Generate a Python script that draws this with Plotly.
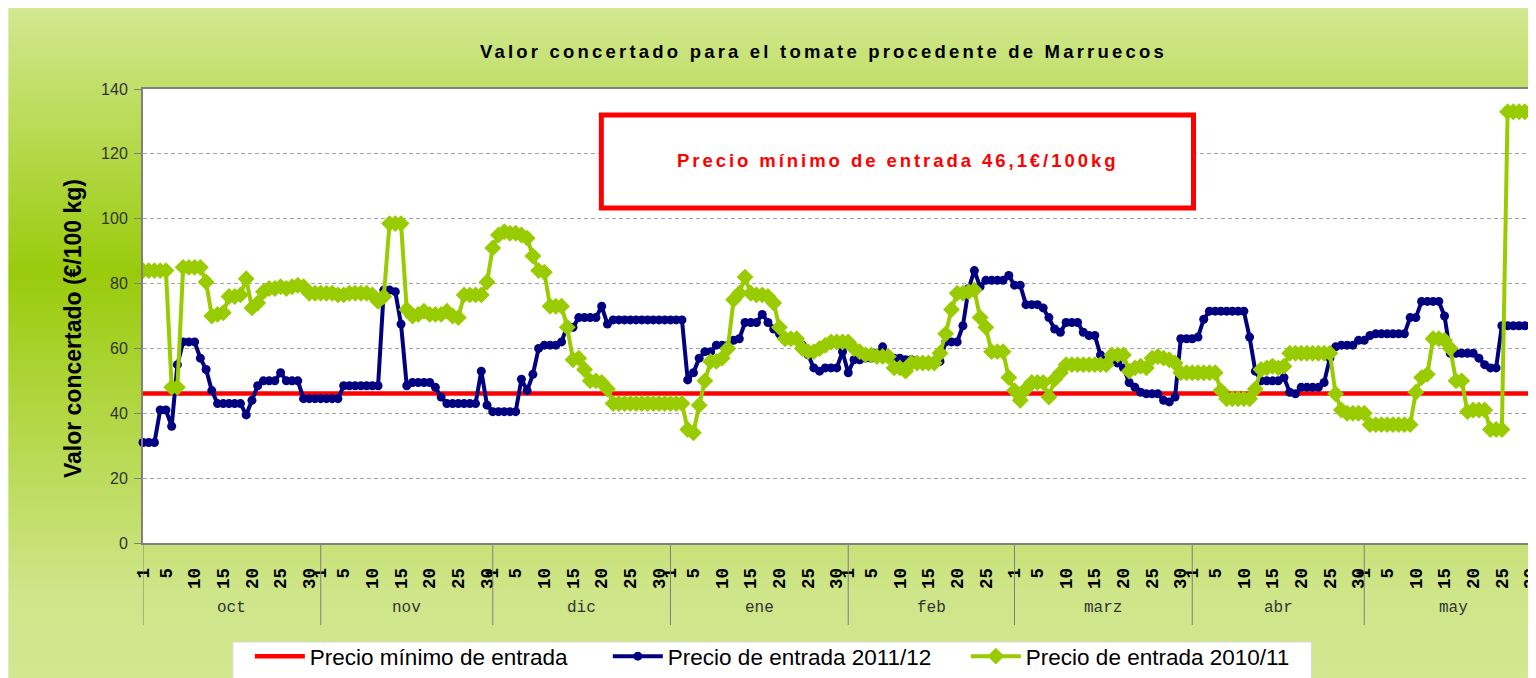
import base64
import plotly.graph_objects as go

# ---------------- data ----------------
months = ["oct", "nov", "dic", "ene", "feb", "marz", "abr", "may"]
month_days = [31, 30, 31, 31, 29, 31, 30, 31]
tick_days = [1, 5, 10, 15, 20, 25, 30]

precio_minimo = 46.1

# Precio de entrada 2011/12 (one value per day, 1 oct -> 31 may)
precio_2011_12 = [
    # oct
    31, 31, 31, 41, 41, 36, 55, 62, 62, 62, 57, 53.5, 47, 43, 43, 43, 43, 43, 39.5, 44,
    48.5, 50, 50, 50, 52.5, 50, 50, 50, 44.5, 44.5, 44.5,
    # nov
    44.5, 44.5, 44.5, 44.5, 48.5, 48.5, 48.5, 48.5, 48.5, 48.5, 48.5, 78, 78, 77.5, 67.5,
    48.5, 49.5, 49.5, 49.5, 49.5, 48, 45, 43, 43, 43, 43, 43, 43, 53, 42.5,
    # dic
    40.5, 40.5, 40.5, 40.5, 40.5, 50.5, 47, 52, 60, 61, 61, 61, 62, 67, 66.5, 69.5,
    69.5, 69.5, 69.5, 73, 67.5, 68.8, 68.8, 68.8, 68.8, 68.8, 68.8, 68.8, 68.8, 68.8, 68.8,
    # ene
    68.8, 68.8, 68.8, 50.3, 52.5, 57, 59, 59, 61, 61, 61, 62.5, 63, 68, 68, 68, 70.5, 68,
    66, 64.5, 62.5, 62.5, 62.5, 61, 58, 54, 53, 54, 54, 54, 59,
    # feb
    52.5, 56.5, 56.5, 57, 57, 58.5, 60.5, 57, 57, 57, 56.5, 56.5, 56, 56, 56, 56, 56, 62,
    62, 62, 67, 78.5, 84, 79, 81, 81, 81, 81, 82.5,
    # marz
    79.5, 79.5, 73.5, 73.5, 73.5, 72.5, 69.5, 66, 65, 68, 68, 68, 65, 64, 64, 58, 56, 56,
    55.5, 54, 49.5, 48, 46.5, 46, 46, 46, 44, 43.5, 45, 63, 63,
    # abr
    63, 63.5, 69, 71.5, 71.5, 71.5, 71.5, 71.5, 71.5, 71.5, 63.5, 53, 50, 50, 50, 50, 51,
    46.5, 46, 48, 48, 48, 48, 49.5, 57, 60.5, 61, 61, 61, 62.5,
    # may
    62.5, 64, 64.5, 64.5, 64.5, 64.5, 64.5, 64.5, 69.5, 69.5, 74.5, 74.5, 74.5, 74.5, 70,
    58.5, 58.5, 58.5, 58.5, 58.5, 57, 55, 54, 54, 67, 67, 67, 67, 67, 67, 67,
]

# Precio de entrada 2010/11
precio_2010_11 = [
    # oct
    84, 84, 84, 84, 84, 48, 48, 85, 85, 85, 85, 80.5, 70, 70.5, 71, 76, 76, 76.5, 81.5,
    72.5, 74, 77.5, 78.5, 78.5, 79, 78.5, 79, 79.5, 79, 77, 77,
    # nov
    77, 77, 77, 76.5, 76.5, 77, 77, 77, 77, 76.5, 74.5, 76, 98.5, 98.5, 98.5, 72, 70,
    70.5, 71.5, 70.5, 70.5, 70.5, 71.5, 70, 69.5, 76.5, 76.5, 76.5, 76.5, 80.5,
    # dic
    91, 95, 96, 95.5, 95.5, 95, 94, 88.5, 84, 83.5, 73, 73, 73, 66.5, 56.5, 57, 53.5, 50,
    50, 49.5, 47.5, 43, 43, 43, 43, 43, 43, 43, 43, 43, 43,
    # ene
    43, 43, 43, 35, 34, 42.5, 50, 56, 56, 57, 60, 75, 77, 82, 77, 76.5, 76.5, 76, 74,
    66.5, 63, 63, 63, 60, 59, 59, 60, 61, 62, 62, 62,
    # feb
    62, 60, 59, 58, 58, 57.5, 57.5, 57.5, 54, 54, 53, 55.5, 55.5, 55.5, 55.5, 55.5, 58.5,
    64.5, 72, 77, 77, 77.5, 78, 69.5, 66.5, 59, 59, 59, 51,
    # marz
    47, 44, 47.5, 49.5, 49.5, 49.5, 45, 50.5, 52.5, 55, 55, 55, 55, 55, 55, 55, 55, 58,
    58, 58, 53, 54, 54.5, 54, 57, 57.5, 57, 56.5, 55.5, 52.5, 52.5,
    # abr
    52.5, 52.5, 52.5, 52.5, 52.5, 47, 44.5, 44.5, 44.5, 44.5, 44.5, 47.5, 53.5, 54, 54.5,
    54, 54.5, 58.5, 58.5, 58.5, 58.5, 58.5, 58.5, 58.5, 58.5, 46, 41, 40, 40, 40,
    # may
    40, 36.5, 36.5, 36.5, 36.5, 36.5, 36.5, 36.5, 36.5, 46.5, 51, 52, 63, 63, 62.5, 60,
    50, 50, 40.5, 41, 41, 41, 35, 35, 35, 133, 133, 133, 133, 133, 133,
]

# ---------------- derived positions ----------------
month_start = []
acc = 0
for nd in month_days:
    month_start.append(acc)
    acc += nd
total_days = acc

x_days = list(range(len(precio_2011_12)))
x_min_line = [0, total_days]

tickvals, ticktext = [], []
for start, nd in zip(month_start, month_days):
    for d in tick_days:
        if d <= nd:
            tickvals.append(start + d - 1)
            ticktext.append(str(d))

# ---------------- figure geometry ----------------
W, H = 1536, 678
PAGE_OFF = 8          # browser body margin
ML, MR, MT, MB = 135, 0, 81, 143
PW, PH = W - ML - MR, H - MT - MB


def px_x(px):  # page pixel -> paper fraction
    return (px - PAGE_OFF - ML) / PW


def px_y(py):
    return (H - MB - (py - PAGE_OFF)) / PH


fig = go.Figure()

fig.add_trace(go.Scatter(
    x=x_min_line, y=[precio_minimo, precio_minimo], mode="lines",
    name="Precio mínimo de entrada",
    line=dict(color="#ff0000", width=4.5),
))
fig.add_trace(go.Scatter(
    x=x_days, y=precio_2011_12, mode="lines+markers",
    name="Precio de entrada 2011/12",
    line=dict(color="#000080", width=4),
    marker=dict(symbol="circle", size=9, color="#000080"),
    cliponaxis=False,
))
fig.add_trace(go.Scatter(
    x=x_days, y=precio_2010_11, mode="lines+markers",
    name="Precio de entrada 2010/11",
    line=dict(color="#99cc00", width=4),
    marker=dict(symbol="diamond", size=13, color="#99cc00"),
    cliponaxis=False,
))

# background gradient (paper)
svg = (
    '<svg xmlns="http://www.w3.org/2000/svg" width="1536" height="678" '
    'preserveAspectRatio="none" viewBox="0 0 1536 678">'
    '<defs><linearGradient id="g" x1="0" y1="0" x2="0" y2="1">'
    '<stop offset="0" stop-color="#d2e891"/>'
    '<stop offset="0.39" stop-color="#9acb0c"/>'
    '<stop offset="0.86" stop-color="#cfe589"/>'
    '<stop offset="1" stop-color="#d2e891"/>'
    '</linearGradient></defs>'
    '<rect x="0" y="0" width="1536" height="678" fill="url(#g)"/></svg>'
)
src = "data:image/svg+xml;base64," + base64.b64encode(svg.encode()).decode()
fig.add_layout_image(dict(
    source=src, xref="paper", yref="paper",
    x=-ML / PW, y=1 + MT / PH, sizex=W / PW, sizey=H / PH,
    xanchor="left", yanchor="top", sizing="stretch", layer="below",
))

shapes = []
# white plot area
shapes.append(dict(type="rect", xref="paper", yref="paper", x0=0, x1=1, y0=0, y1=1,
                   fillcolor="white", line=dict(width=0), layer="below"))
# month dividers
for start in month_start:
    shapes.append(dict(type="line", xref="x", yref="paper", x0=start, x1=start,
                       y0=0, y1=px_y(625), line=dict(color="#7f7f7f", width=1)))
# red framed box
shapes.append(dict(type="rect", xref="paper", yref="paper",
                   x0=px_x(602), x1=px_x(1195), y0=px_y(208), y1=px_y(115),
                   fillcolor="white", line=dict(color="#ff0000", width=5)))
# white legend box
shapes.append(dict(type="rect", xref="paper", yref="paper",
                   x0=px_x(233), x1=px_x(1313), y0=px_y(700), y1=px_y(642),
                   fillcolor="white", line=dict(color="#d9d9d9", width=1)))
fig.update_layout(shapes=shapes)

annotations = []
for m, start, nd in zip(months, month_start, month_days):
    annotations.append(dict(
        text=m, xref="x", yref="paper", x=start + nd / 2, y=px_y(608),
        showarrow=False, xanchor="center", yanchor="middle",
        font=dict(family="Liberation Mono, Courier New, monospace", size=16, color="#333333"),
    ))
annotations.append(dict(
    text='<span style="letter-spacing:3.2px">Valor concertado para el tomate procedente de Marruecos</span>',
    xref="paper", yref="paper", x=px_x(824), y=px_y(52), showarrow=False,
    xanchor="center", yanchor="middle",
    font=dict(family="Liberation Sans, Arial, sans-serif", size=18.5, color="#000000", weight="bold"),
))
annotations.append(dict(
    text='<span style="letter-spacing:2.95px">Precio mínimo de entrada 46,1€/100kg</span>',
    xref="paper", yref="paper", x=px_x(899), y=px_y(160), showarrow=False,
    xanchor="center", yanchor="middle",
    font=dict(family="Liberation Sans, Arial, sans-serif", size=18.5, color="#ff0000", weight="bold"),
))
annotations.append(dict(
    text="Valor concertado (€/100 kg)", xref="paper", yref="paper",
    x=px_x(73), y=px_y(329), showarrow=False, textangle=-90,
    xanchor="center", yanchor="middle",
    font=dict(family="Liberation Sans, Arial, sans-serif", size=23, color="#000000", weight="bold"),
))
fig.update_layout(annotations=annotations)

fig.update_layout(
    width=W, height=H,
    margin=dict(l=ML, r=MR, t=MT, b=MB, pad=0),
    paper_bgcolor="white",
    plot_bgcolor="rgba(0,0,0,0)",
    showlegend=True,
    legend=dict(
        orientation="h", x=px_x(250), y=px_y(635), xanchor="left", yanchor="top",
        bgcolor="rgba(0,0,0,0)", borderwidth=0,
        font=dict(family="Liberation Sans, Arial, sans-serif", size=22.5, color="#000000"),
        itemwidth=50, entrywidth=293, entrywidthmode="pixels",
    ),
)

fig.update_xaxes(
    range=[0, total_days], tickmode="array", tickvals=tickvals, ticktext=ticktext,
    tickangle=-90, ticks="", showgrid=False, zeroline=False,
    showline=True, linecolor="#808080", linewidth=2, mirror=True,
    ticklabelstandoff=16,
    tickfont=dict(family="Liberation Mono, Courier New, monospace", size=17.5,
                  color="#000000", weight="bold"),
)
fig.update_yaxes(
    range=[0, 140], tickmode="array", tickvals=[0, 20, 40, 60, 80, 100, 120, 140],
    ticks="outside", ticklen=7, tickcolor="#808080", tickwidth=1,
    ticklabelstandoff=3,
    showgrid=True, gridcolor="#a6a6a6", griddash="4px,3px", gridwidth=1,
    zeroline=False, showline=True, linecolor="#808080", linewidth=2, mirror=True,
    tickfont=dict(family="Liberation Sans, Arial, sans-serif", size=16, color="#333333"),
)

fig.write_html("out.html")
